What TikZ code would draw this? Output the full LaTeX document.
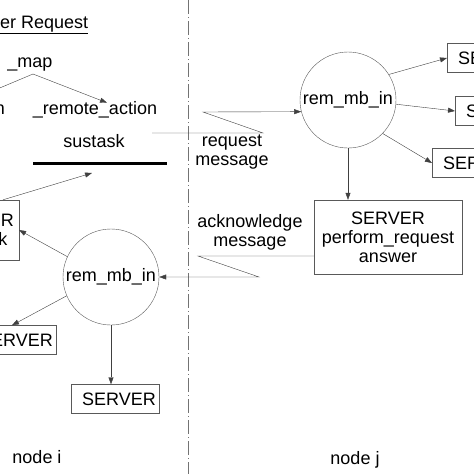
\documentclass[tikz,border=0pt]{standalone}
\usepackage{fontspec}
\setmainfont{Liberation Sans}
\usetikzlibrary{arrows.meta}

\begin{document}
\begin{tikzpicture}[x=1pt,y=-1pt,font=\fontsize{18}{19}\selectfont]
      \tikzstyle{bubble}=[circle,draw=black!65,minimum size=96pt,inner sep=0pt]
      \tikzstyle{box}=[rectangle,draw=black!65,inner xsep=5pt]
      \tikzstyle{srvbox}=[box,inner xsep=3pt,minimum height=29pt,execute at begin node=\hspace{8pt}]
      \tikzstyle{lbl}=[inner sep=0pt]
      \tikzstyle{link}=[draw=black!75,-{Triangle[length=7pt,width=5pt]}]
      \useasboundingbox (0,0) rectangle (474,474);
      \clip (0,0) rectangle (474,474);
      \draw[black!55,dash pattern=on 14pt off 3pt on 1pt off 3pt] (188,0) -- (188,474);
      % node i side
      \node[lbl,anchor=base west] (ttl) at (0,28) {\underline{er Request}};
      \node[lbl,anchor=base] (map) at (30,67) {\_map};
      \node[lbl,anchor=base east] (lact) at (5,114) {n};
      \node[lbl,anchor=base] (ract) at (95,114) {\_remote\_action};
      \node[lbl,anchor=base] (sus) at (94,147) {sustask};
      \node[bubble] (lmbi) at (111,277) {rem\_mb\_in};
      \node[box,anchor=east,align=center,minimum height=60pt] (task) at (19,230) {SERVER\\sustask};
      \node[srvbox,anchor=east] (srvL) at (56,340) {SERVER};
      \node[srvbox] (srvD) at (115,399) {SERVER};
      \node[lbl,anchor=base] (ndi) at (37,463) {node i};
      % node j side
      \node[bubble] (rmbj) at (348,100) {rem\_mb\_in};
      \node[box,minimum width=148pt,minimum height=74pt,align=center] (srv) at (388,237) {SERVER\\perform\_request\\answer};
      \node[srvbox,anchor=west] (srvA) at (447,58) {SERVER};
      \node[srvbox,anchor=west] (srvB) at (455,111) {SERVER};
      \node[srvbox,anchor=west] (srvC) at (432,163) {SERVER};
      \node[lbl,anchor=base] (ndj) at (355,464) {node j};
      % messages
      \node[lbl,align=center] (req) at (232,152) {request\\message};
      \node[lbl,align=center] (ack) at (250,232) {acknowledge\\message};
      \coordinate (fork) at ([shift={(3,7)}]map.base);
      \coordinate (lend) at (-36,103);
      \coordinate (susin) at (92,173);
      \coordinate (rq1) at (152,133);
      \coordinate (rq2) at (263,133);
      \coordinate (rq3) at (203,112);
      \coordinate (ak2) at (198,256);
      \coordinate (ak3) at (259,277);
      \draw[link] (fork) -- (lend);
      \draw[link] (fork) -- ([xshift=12pt,yshift=-2pt]ract.north);
      \draw[line width=3pt] (33,163) -- (167,163);
      \draw[link] ([xshift=-16pt]task.north east) -- (susin);
      \draw[link] (rq1) -- (rq2) -- (rq3) -- (rmbj.194);
      \draw[link] (rmbj.32) -- (srvA.west);
      \draw[link] (rmbj.-5) -- (srvB.west);
      \draw[link] (rmbj.-44) -- (srvC.west);
      \draw[link] (rmbj.south) -- (rmbj.south |- srv.north);
      \draw[link] (srv.west |- ak2) -- (ak2) -- (ak3) -- (lmbi.east);
      \draw[link] (lmbi.155) -- (task.east);
      \draw[link] (lmbi.203) -- (srvL.north);
      \draw[link] (lmbi.south) -- (lmbi.south |- srvD.north);
\end{tikzpicture}
\end{document}
